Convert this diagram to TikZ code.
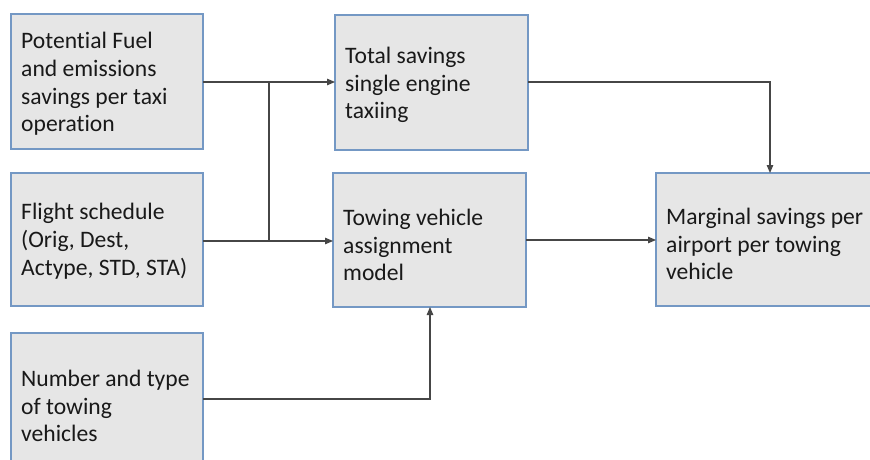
\documentclass[tikz,border=0pt]{standalone}
\usepackage{fontspec}
\setmainfont{Carlito}[Ligatures=NoCommon]
\usetikzlibrary{arrows.meta}
\definecolor{boxfill}{RGB}{230,230,230}
\definecolor{boxedge}{RGB}{116,152,196}
\definecolor{linkcol}{RGB}{70,70,70}
\definecolor{txtcol}{RGB}{25,25,25}
\begin{document}
\begin{tikzpicture}[x=1pt,y=-1pt,
  blockbox/.style={draw=boxedge, fill=boxfill, line width=1.4pt},
  blocktext/.style={anchor=west, align=left, text=txtcol,
    font=\fontsize{23.6}{27.8}\selectfont, inner sep=0pt},
  link/.style={draw=linkcol, line width=1.1pt},
  arr/.style={link, -{Triangle[length=8pt,width=6.5pt]}}]
\useasboundingbox (0,0) rectangle (870,460);
\clip (0,0) rectangle (870,460);
\fill[white] (0,0) rectangle (870,460);

% boxes
\draw[blockbox] (11,14) rectangle (203,149);
\draw[blockbox] (11,173) rectangle (203,306);
\draw[blockbox] (11,333) rectangle (203,475);
\draw[blockbox] (335,15) rectangle (528,150);
\draw[blockbox] (333,173) rectangle (526,307);
\draw[blockbox] (656,173) rectangle (880,306);

% named anchor points on the box edges
\coordinate (fuelR) at (203,82);
\coordinate (schedR) at (203,241);
\coordinate (towR) at (203,399);
\coordinate (totalL) at (335,82);
\coordinate (totalR) at (528,82);
\coordinate (assignL) at (333,241);
\coordinate (assignR) at (526,240);
\coordinate (assignB) at (430,307);
\coordinate (margL) at (656,240);
\coordinate (margT) at (770,173);
\coordinate (jTop) at (269,82);
\coordinate (jBot) at (269,241);

% texts
\node[blocktext] (fuel) at (21,84) {Potential Fuel\\and emissions\\savings per taxi\\operation};
\node[blocktext] (sched) at (21,241) {Flight schedule\\(Orig, Dest,\\Actype, STD, STA)};
\node[blocktext] (tow) at (21,406) {Number and type\\of towing\\vehicles};
\node[blocktext] (total) at (345,85) {Total savings\\single engine\\taxiing};
\node[blocktext] (assign) at (343,245) {Towing vehicle\\assignment\\model};
\node[blocktext] (marg) at (666,244) {Marginal savings per\\airport per towing\\vehicle};

% connectors
\draw[link] (fuelR) -- (jTop);
\draw[link] (schedR) -- (jBot);
\draw[link] (jTop) -- (jBot);
\draw[arr] (jTop) -- (totalL);
\draw[arr] (jBot) -- (assignL);
\draw[arr] (totalR) -| (margT);
\draw[arr] (assignR) -- (margL);
\draw[arr] (towR) -| (assignB);
\end{tikzpicture}
\end{document}
